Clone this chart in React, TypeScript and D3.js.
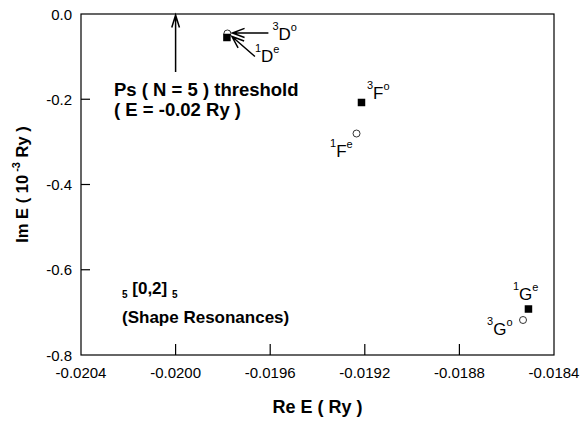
import React from "react";
import * as d3 from "d3";

const xTicks = [-0.0204, -0.02, -0.0196, -0.0192, -0.0188, -0.0184];
const yTicks = [0, -0.2, -0.4, -0.6, -0.8];

// filled squares: 1De, 3Fo, 1Ge
const filledRe = [-0.019783, -0.019214, -0.018508];
const filledIm = [-0.0551, -0.2076, -0.6921];
// open circles: 3Do, 1Fe, 3Go
const openRe = [-0.019781, -0.019235, -0.018531];
const openIm = [-0.0457, -0.2804, -0.7179];

const W = 582;
const H = 425;
const M = { left: 81, right: 554, top: 14, bottom: 355 };

export default function App() {
  const x = d3.scaleLinear().domain([-0.0204, -0.0184]).range([M.left, M.right]);
  const y = d3.scaleLinear().domain([0, -0.8]).range([M.top, M.bottom]);
  const font = "'Liberation Sans', Arial, Helvetica, sans-serif";

  const arrow = (x1: number, y1: number, x2: number, y2: number, len = 12, ang = 0.35) => {
    const a = Math.atan2(y2 - y1, x2 - x1);
    const p1 = [x2 - len * Math.cos(a - ang), y2 - len * Math.sin(a - ang)];
    const p2 = [x2 - len * Math.cos(a + ang), y2 - len * Math.sin(a + ang)];
    return `M${x1},${y1}L${x2},${y2}M${p1[0]},${p1[1]}L${x2},${y2}L${p2[0]},${p2[1]}`;
  };

  const sq = 7.5;
  const xt = x(-0.02);

  const stateLabel = (tx: number, ty: number, pre: string, letter: string, post: string) => (
    <text x={tx} y={ty} fontFamily={font} fontSize={17} fill="#000">
      <tspan fontSize={11} dy={-10}>{pre}</tspan>
      <tspan dy={10}>{letter}</tspan>
      <tspan fontSize={11} dy={-9}>{post}</tspan>
    </text>
  );

  const oD = [x(openRe[0]), y(openIm[0])];
  const fD = [x(filledRe[0]), y(filledIm[0])];
  const fF = [x(filledRe[1]), y(filledIm[1])];
  const oF = [x(openRe[1]), y(openIm[1])];
  const fG = [x(filledRe[2]), y(filledIm[2])];
  const oG = [x(openRe[2]), y(openIm[2])];

  return (
    <svg width={W} height={H} style={{ position: "absolute", left: 0, top: 0, background: "#fff" }}>
      <rect x={0} y={0} width={W} height={H} fill="#fff" />
      {/* frame */}
      <rect x={M.left} y={M.top} width={M.right - M.left} height={M.bottom - M.top} fill="none" stroke="#000" strokeWidth={1.2} />
      {/* x ticks */}
      {xTicks.map((t, i) => (
        <g key={"xt" + i}>
          {i > 0 && i < xTicks.length - 1 && (
            <line x1={x(t)} x2={x(t)} y1={M.bottom} y2={M.bottom - 11} stroke="#000" strokeWidth={1.2} />
          )}
          <text x={x(t)} y={M.bottom + 23} textAnchor="middle" fontFamily={font} fontSize={15}>
            {t.toFixed(4)}
          </text>
        </g>
      ))}
      {/* y ticks */}
      {yTicks.map((t, i) => (
        <g key={"yt" + i}>
          {i > 0 && i < yTicks.length - 1 && (
            <line x1={M.left} x2={M.left + 9} y1={y(t)} y2={y(t)} stroke="#000" strokeWidth={1.2} />
          )}
          <text x={M.left - 9} y={y(t) + 5.5} textAnchor="end" fontFamily={font} fontSize={15}>
            {t === 0 ? "0.0" : t.toFixed(1)}
          </text>
        </g>
      ))}
      {/* axis titles */}
      <text x={(M.left + M.right) / 2} y={413} textAnchor="middle" fontFamily={font} fontSize={18} fontWeight="bold">
        Re E ( Ry )
      </text>
      <text
        transform={`translate(28,${(M.top + M.bottom) / 2}) rotate(-90)`}
        textAnchor="middle"
        fontFamily={font}
        fontSize={16.5}
        fontWeight="bold"
      >
        Im E ( 10
        <tspan dy={-8} fontSize={11}> -3</tspan>
        <tspan dy={8}> Ry )</tspan>
      </text>

      {/* threshold arrow */}
      <path d={arrow(xt, 72, xt, M.top + 1, 13, 0.3)} fill="none" stroke="#000" strokeWidth={1.5} />
      <text x={114} y={96} fontFamily={font} fontSize={18.5} fontWeight="bold">
        Ps ( N = 5 ) threshold
      </text>
      <text x={114} y={116} fontFamily={font} fontSize={18.5} fontWeight="bold">
        ( E = -0.02 Ry )
      </text>

      {/* D arrows */}
      <path d={arrow(oD[0] + 41, oD[1] - 0.5, oD[0] + 5, oD[1] - 0.5, 13, 0.36)} fill="none" stroke="#000" strokeWidth={1.5} />
      <path d={arrow(fD[0] + 28, fD[1] + 19, fD[0] + 5, fD[1] - 1, 13, 0.36)} fill="none" stroke="#000" strokeWidth={1.5} />

      {/* markers */}
      {openRe.map((r, i) => (
        <circle key={"o" + i} cx={x(r)} cy={y(openIm[i])} r={3.5} fill="#fff" stroke="#000" strokeWidth={0.8} />
      ))}
      {filledRe.map((r, i) => (
        <rect key={"f" + i} x={x(r) - sq / 2} y={y(filledIm[i]) - sq / 2} width={sq} height={sq} fill="#000" />
      ))}

      {/* state labels */}
      {stateLabel(oD[0] + 45, oD[1] + 6.5, "3", "D", "o")}
      {stateLabel(fD[0] + 28, fD[1] + 24.5, "1", "D", "e")}
      {stateLabel(fF[0] + 5.5, fF[1] - 3.5, "3", "F", "o")}
      {stateLabel(oF[0] - 26.5, oF[1] + 23.5, "1", "F", "e")}
      {stateLabel(fG[0] - 15.5, fG[1] - 9, "1", "G", "e")}
      {stateLabel(oG[0] - 36, oG[1] + 15, "3", "G", "o")}

      {/* shape resonance annotation */}
      <text x={122} y={294} fontFamily={font} fontSize={17} fontWeight="bold">
        <tspan fontSize={10} dy={4}>5</tspan>
        <tspan dy={-4}> [0,2] </tspan>
        <tspan fontSize={10} dy={4}>5</tspan>
      </text>
      <text x={122} y={323} fontFamily={font} fontSize={17} fontWeight="bold">
        (Shape Resonances)
      </text>
    </svg>
  );
}
